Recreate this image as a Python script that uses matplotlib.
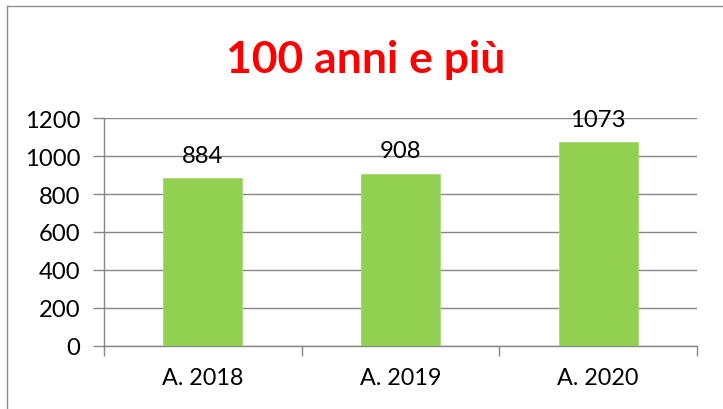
import matplotlib
matplotlib.use("Agg")
import matplotlib.pyplot as plt
from matplotlib.lines import Line2D

categories = ["A. 2018", "A. 2019", "A. 2020"]
values = [884, 908, 1073]
title = "100 anni e più"
yticks = [0, 200, 400, 600, 800, 1000, 1200]

plt.rcParams['font.family'] = ['Lato', 'DejaVu Sans']

W, H = 723, 410
fig = plt.figure(figsize=(W / 100, H / 100), dpi=100)
fig.patch.set_facecolor('white')

# axes placement in pixels
x0, x1 = 104, 697
y0, y1 = 346.7, 119.3
ax = fig.add_axes([x0 / W, 1 - y0 / H, (x1 - x0) / W, (y0 - y1) / H])

pos = list(range(len(categories)))
ax.bar(pos, values, width=0.4, color='#92D050', edgecolor='#A9DA74', linewidth=0.6, zorder=3)
ax.set_xlim(-0.5, len(categories) - 0.5)
ax.set_ylim(0, 1200)
ax.set_yticks(yticks)
ax.set_yticklabels([str(t) for t in yticks], fontsize=17.2)
ax.yaxis.grid(True, color='#868686', linewidth=1.0, zorder=0)
ax.set_axisbelow(True)

# x ticks at category boundaries, labels at centers
ax.set_xticks([p - 0.5 for p in pos] + [len(pos) - 0.5])
ax.set_xticklabels([])
ax.set_xticks(pos, minor=True)
ax.set_xticklabels(categories, minor=True, fontsize=16.8)
ax.tick_params(axis='x', which='major', length=7, color='#868686', width=1, direction='out')
ax.tick_params(axis='x', which='minor', length=0, pad=15.5)
ax.tick_params(axis='y', length=8, color='#868686', width=1, pad=9)

for s in ['top', 'right']:
    ax.spines[s].set_visible(False)
for s in ['left', 'bottom']:
    ax.spines[s].set_color('#868686')
    ax.spines[s].set_linewidth(1.0)

for p, v in zip(pos, values):
    ax.annotate(str(v), (p, v), xytext=(0, 9), textcoords='offset points',
                ha='center', va='bottom', fontsize=17.2, color='black')

fig.text(366 / W, 1 - 60 / H, title, ha='center', va='center', fontsize=32,
         fontweight='bold', color='#FF0000')

# outer chart frame (left and top edges visible)
fig.add_artist(Line2D([7 / W, 7 / W], [0, 1 - 7 / H], transform=fig.transFigure, color='#8C8C8C', linewidth=1))
fig.add_artist(Line2D([7 / W, 1], [1 - 7 / H, 1 - 7 / H], transform=fig.transFigure, color='#8C8C8C', linewidth=1))

fig.savefig("out.png", dpi=100)
